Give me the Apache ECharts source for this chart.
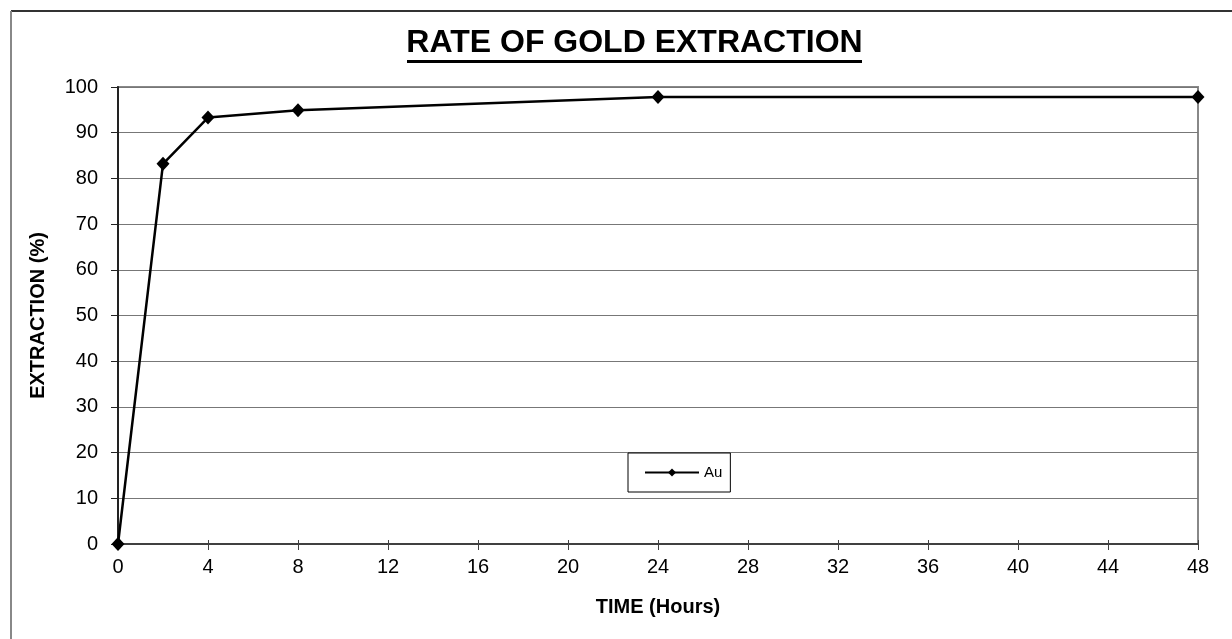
<!DOCTYPE html>
<html>
<head>
<meta charset="utf-8">
<script src="https://cdn.jsdelivr.net/npm/echarts@6/dist/echarts.min.js"></script>
<style>
html,body{margin:0;padding:0;background:#fff;}
#chart{width:1232px;height:639px;}
</style>
</head>
<body>
<div id="chart"></div>
<script>
const titleText = 'RATE OF GOLD EXTRACTION';
const xAxisName = 'TIME (Hours)';
const yAxisName = 'EXTRACTION (%)';
const seriesName = 'Au';
const timeHours = [0, 2, 4, 8, 24, 48];
const extraction = [0, 83.2, 93.3, 94.9, 97.8, 97.8];

const FONT = '"Liberation Sans", Arial, sans-serif';
const chart = echarts.init(document.getElementById('chart'), null, {renderer: 'canvas'});
const data = timeHours.map((t, i) => [t, extraction[i]]);

chart.setOption({
  animation: false,
  backgroundColor: '#ffffff',
  textStyle: {fontFamily: FONT},
  graphic: [
    {type: 'line', shape: {x1: 11, y1: 11, x2: 1240, y2: 11}, style: {stroke: '#333', lineWidth: 2}, z: 100},
    {type: 'line', shape: {x1: 11, y1: 11, x2: 11, y2: 650}, style: {stroke: '#888', lineWidth: 2}, z: 100},
    {type: 'text', x: 634.5, y: 43.5, style: {text: titleText, font: 'bold 32px ' + FONT, fill: '#000', textAlign: 'center', textVerticalAlign: 'middle'}},
    {type: 'line', shape: {x1: 407, y1: 61.5, x2: 862, y2: 61.5}, style: {stroke: '#000', lineWidth: 3}}
  ],
  grid: {left: 118, right: 34, top: 87, bottom: 95, show: true, borderColor: '#888', borderWidth: 2, backgroundColor: '#fff'},
  legend: {
    data: [seriesName],
    left: 628, top: 453,
    orient: 'horizontal',
    borderColor: '#000', borderWidth: 1,
    padding: [12, 8, 12, 16],
    itemWidth: 54, itemHeight: 10, itemGap: 5,
    textStyle: {fontSize: 15, color: '#000', fontFamily: FONT},
    backgroundColor: '#fff'
  },
  xAxis: [{
    type: 'value', min: 0, max: 48, interval: 4,
    name: xAxisName, nameLocation: 'middle', nameGap: 53,
    nameTextStyle: {fontSize: 20, fontWeight: 'bold', color: '#000', fontFamily: FONT},
    axisLine: {show: true, lineStyle: {color: '#404040', width: 2}},
    axisTick: {show: true, inside: false, length: 6, lineStyle: {color: '#404040', width: 1}},
    axisLabel: {fontSize: 20, color: '#000', margin: 13, fontFamily: FONT},
    splitLine: {show: false}
  }, {
    type: 'value', min: 0, max: 48, interval: 4, position: 'bottom',
    axisLine: {show: false},
    axisTick: {show: true, inside: true, length: 4, lineStyle: {color: '#404040', width: 1}},
    axisLabel: {show: false},
    splitLine: {show: false}
  }],
  yAxis: {
    type: 'value', min: 0, max: 100, interval: 10,
    name: yAxisName, nameLocation: 'middle', nameGap: 70, nameRotate: 90,
    nameTextStyle: {fontSize: 20, fontWeight: 'bold', color: '#000', fontFamily: FONT},
    axisLine: {show: true, lineStyle: {color: '#222', width: 2}},
    axisTick: {show: true, inside: false, length: 7, lineStyle: {color: '#222', width: 1}},
    axisLabel: {fontSize: 20, color: '#000', margin: 20, fontFamily: FONT},
    splitLine: {show: true, lineStyle: {color: '#777', width: 1}}
  },
  series: [{
    name: seriesName,
    type: 'line',
    data: data,
    symbol: 'diamond',
    symbolSize: [13, 14],
    lineStyle: {color: '#000', width: 2.5},
    itemStyle: {color: '#000'},
    clip: false,
    z: 10
  }]
});
</script>
</body>
</html>
